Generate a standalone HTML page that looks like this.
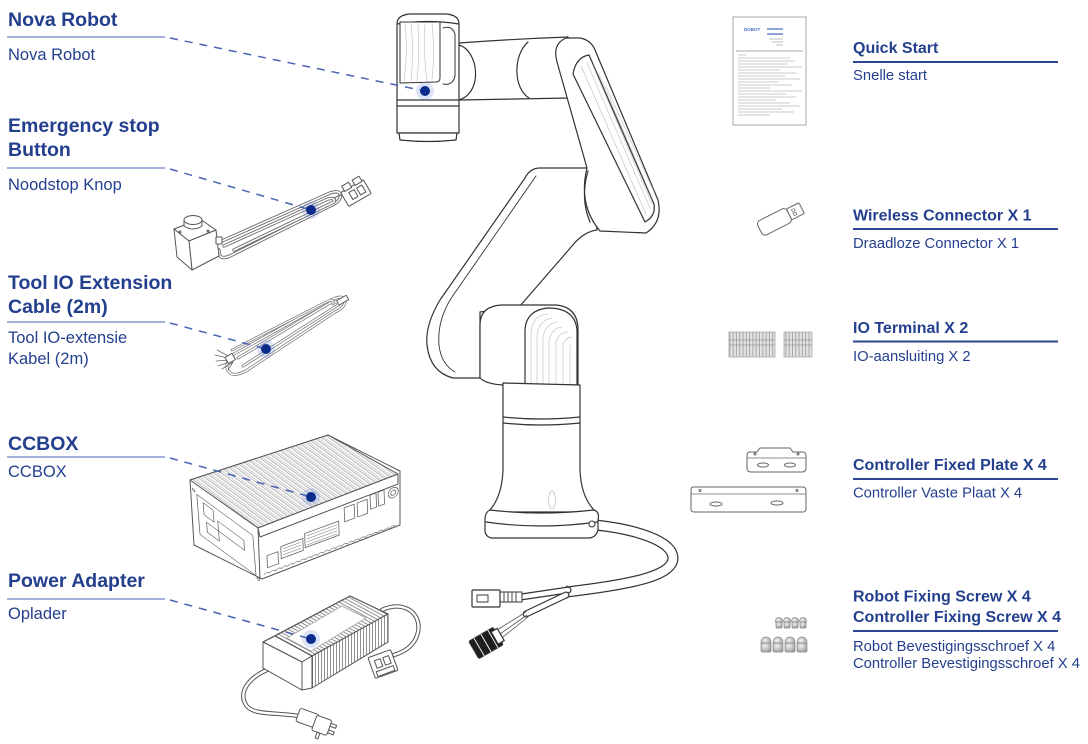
<!DOCTYPE html>
<html><head><meta charset="utf-8">
<style>
html,body{margin:0;padding:0;background:#fff;}
svg{display:block;}
.t{font-family:"Liberation Sans",Arial,sans-serif;fill:#233f8d;}
.lt{font-size:19.5px;font-weight:bold;}
.ls{font-size:16.5px;}
.rt{font-size:16px;font-weight:bold;}
.rs{font-size:14.8px;}
</style></head>
<body>
<svg width="1088" height="744" viewBox="0 0 1088 744" xmlns="http://www.w3.org/2000/svg">
<defs>
<pattern id="fin1" width="4.4" height="10" patternUnits="userSpaceOnUse" patternTransform="rotate(-53.7)">
<rect width="4.4" height="10" fill="#fff"/>
<line x1="0.6" y1="0" x2="0.6" y2="10" stroke="#9a9a9a" stroke-width="0.7"/>
<line x1="2.4" y1="0" x2="2.4" y2="10" stroke="#b0b0b0" stroke-width="0.6"/>
</pattern>
<pattern id="fin2" width="3" height="10" patternUnits="userSpaceOnUse" patternTransform="rotate(-61.6)">
<rect width="3" height="10" fill="#fff"/>
<line x1="0.6" y1="0" x2="0.6" y2="10" stroke="#777" stroke-width="0.8"/>
</pattern>
<pattern id="fin3" width="3" height="10" patternUnits="userSpaceOnUse">
<rect width="3" height="10" fill="#fff"/>
<line x1="0.6" y1="0" x2="0.6" y2="10" stroke="#777" stroke-width="0.8"/>
</pattern>
<pattern id="term" width="3.3" height="25" patternUnits="userSpaceOnUse">
<rect width="3.3" height="25" fill="#e2e2e2"/>
<line x1="0.5" y1="0" x2="0.5" y2="25" stroke="#9a9a9a" stroke-width="0.8"/>
</pattern>
<radialGradient id="scr" cx="0.4" cy="0.35" r="0.7">
<stop offset="0" stop-color="#f2f2f2"/><stop offset="1" stop-color="#9a9a9a"/>
</radialGradient>
</defs>

<!-- ================= LEFT LABELS ================= -->
<g>
<text class="t lt" x="8" y="26">Nova Robot</text>
<line x1="7" y1="37" x2="165" y2="37" stroke="#8597d2" stroke-width="1.6"/>
<text class="t ls" x="8" y="60">Nova Robot</text>

<text class="t lt" x="8" y="132">Emergency stop</text>
<text class="t lt" x="8" y="156">Button</text>
<line x1="7" y1="168" x2="165" y2="168" stroke="#8597d2" stroke-width="1.6"/>
<text class="t ls" x="8" y="190">Noodstop Knop</text>

<text class="t lt" x="8" y="289">Tool IO Extension</text>
<text class="t lt" x="8" y="313">Cable (2m)</text>
<line x1="7" y1="322" x2="165" y2="322" stroke="#8597d2" stroke-width="1.6"/>
<text class="t ls" x="8" y="343">Tool IO-extensie</text>
<text class="t ls" x="8" y="364">Kabel (2m)</text>

<text class="t lt" x="8" y="450">CCBOX</text>
<line x1="7" y1="457" x2="165" y2="457" stroke="#8597d2" stroke-width="1.6"/>
<text class="t ls" x="8" y="477">CCBOX</text>

<text class="t lt" x="8" y="587">Power Adapter</text>
<line x1="7" y1="599" x2="165" y2="599" stroke="#8597d2" stroke-width="1.6"/>
<text class="t ls" x="8" y="619">Oplader</text>
</g>

<!-- ================= RIGHT LABELS ================= -->
<g>
<text class="t rt" x="853" y="53">Quick Start</text>
<line x1="853" y1="62" x2="1058" y2="62" stroke="#2e4593" stroke-width="2"/>
<text class="t rs" x="853" y="80">Snelle start</text>

<text class="t rt" x="853" y="220.5">Wireless Connector X 1</text>
<line x1="853" y1="229" x2="1058" y2="229" stroke="#2e4593" stroke-width="2"/>
<text class="t rs" x="853" y="248">Draadloze Connector X 1</text>

<text class="t rt" x="853" y="333">IO Terminal X 2</text>
<line x1="853" y1="341.5" x2="1058" y2="341.5" stroke="#2e4593" stroke-width="2"/>
<text class="t rs" x="853" y="361">IO-aansluiting X 2</text>

<text class="t rt" x="853" y="470">Controller Fixed Plate X 4</text>
<line x1="853" y1="479" x2="1058" y2="479" stroke="#2e4593" stroke-width="2"/>
<text class="t rs" x="853" y="497.5">Controller Vaste Plaat X 4</text>

<text class="t rt" x="853" y="601.5">Robot Fixing Screw X 4</text>
<text class="t rt" x="853" y="622">Controller Fixing Screw X 4</text>
<line x1="853" y1="631" x2="1058" y2="631" stroke="#2e4593" stroke-width="2"/>
<text class="t rs" x="853" y="651">Robot Bevestigingsschroef X 4</text>
<text class="t rs" x="853" y="668">Controller Bevestigingsschroef X 4</text>
</g>

<!-- ================= ROBOT ================= -->
<g fill="#fff" stroke="#333" stroke-width="1.2" stroke-linejoin="round" stroke-linecap="round">
<!-- upper arm -->
<path d="M540,168 L590,168 L597,230 Q583,232 572,246 L520,306 L480,312 L480,378 L453,378 Q430,372 427,345 Q425,325 440,300 L525,178 Q530,168 540,168 Z"/>
<path d="M536,176 L452,297 Q437,320 439,345 Q441,364 455,372" fill="none" stroke-width="0.9"/>
<!-- shoulder -->
<path d="M480,378 L480,325 Q480,306 502,305 L556,305 Q578,307 578,330 L578,385 L503,385 Q486,384 480,378 Z"/>
<path d="M525,385 L525,330 Q526,310 548,308 Q575,308 577,330 L577,385" fill="none"/>
<path d="M531,384 L531,333 Q532,315 548,314 M537,384 L537,336 Q539,320 552,318 M543,384 L543,338 Q545,324 557,322 M549,384 L549,340 Q552,328 562,327 M556,384 L556,342 Q559,332 568,332 M563,384 L563,345 Q566,337 572,337 M570,384 L570,345" fill="none" stroke="#c6c6c6" stroke-width="0.7"/>
<!-- column -->
<path d="M503,383 L503,470 Q502,498 488,512 L596,512 Q581,498 580,470 L580,385 Z"/>
<path d="M503,417 Q541,421 580,417 M503,423 Q541,427 580,423" fill="none"/>
<ellipse cx="552" cy="500" rx="3.5" ry="9" fill="none" stroke="#c4c4c4" stroke-width="0.9"/>
<!-- cable -->
<path d="M585,524 C635,528 673,541 673,558 C673,577 625,585 567,592" fill="none" stroke="#333" stroke-width="11"/>
<path d="M585,524 C635,528 673,541 673,558 C673,577 625,585 567,592" fill="none" stroke="#fff" stroke-width="8.6"/>
<path d="M567,586 L567,598" fill="none"/>
<path d="M568,590 L521,597" fill="none" stroke="#333" stroke-width="7"/>
<path d="M568,590 L521,597" fill="none" stroke="#fff" stroke-width="4.6"/>
<path d="M566,595 L526,614" fill="none" stroke="#333" stroke-width="7"/>
<path d="M566,595 L526,614" fill="none" stroke="#fff" stroke-width="4.6"/>
<path d="M526,612 L497,630 M527,615 L500,634 M528,617 L503,637" fill="none" stroke="#555" stroke-width="0.8"/>
<rect x="500" y="592" width="22" height="10" stroke-width="1"/>
<path d="M504,593 L504,601 M508,593 L508,601 M512,593 L512,601 M516,593 L516,601" fill="none" stroke="#666" stroke-width="1.2"/>
<rect x="472" y="590" width="28" height="17" rx="1"/>
<rect x="477" y="595" width="11" height="7" stroke-width="0.9"/>
<g transform="translate(486,643) rotate(-30)">
<rect x="-14" y="-10" width="28" height="20" rx="1.5" fill="#1e1e1e"/>
<path d="M-8,-10 L-8,10 M0,-10 L0,10 M8,-10 L8,10" stroke="#fff" stroke-width="0.9"/>
<rect x="10" y="-7" width="7" height="14" fill="#fff"/>
</g>
<!-- base plate -->
<path d="M490,510 Q541,516 594,510 Q600,512 598,520 L598,530 Q596,537 590,538 L492,538 Q485,537 485,530 L485,520 Q485,512 490,510 Z"/>
<path d="M486,522 Q541,530 597,522" fill="none"/>
<circle cx="592" cy="524" r="3" stroke-width="1"/>
<!-- link from head to elbow -->
<path d="M459,43 C500,40 540,38 568,37 L570,98 L459,100 Z"/>
<path d="M528,42 C513,55 513,88 529,98" fill="none"/>
<!-- forearm -->
<path d="M557,62 Q552,44 566,38 L580,38 Q591,40 595,50 L658,200 Q663,222 646,233 L600,231 Q578,205 587,168 L557,62 Z"/>
<path d="M573,74 Q576,57 589,55 L654,204 Q656,216 645,222 Z"/>
<path d="M581,66 L646,214 M587,63 L650,208 M593,66 L652,204 M599,74 L653,200 M606,86 L654,192" fill="none" stroke="#c6c6c6" stroke-width="0.7"/>
<path d="M588,171 Q580,198 590,222" fill="none"/>
<!-- head -->
<path d="M459,45 C478,50 484,92 459,100" />
<path d="M397,24 Q397,15 410,14 L446,14 Q459,15 459,24 L459,133 L397,133 Z"/>
<path d="M397,24 Q428,19 459,24" fill="none"/>
<path d="M400,22 L440,22 L440,78 Q440,82 436,82 L400,83 Z" stroke-width="1"/>
<path d="M405,24 Q408,50 404,81 M411,24 Q414,50 411,81 M418,24 Q420,52 417,81 M425,24 Q423,50 427,81 M432,24 Q435,50 432,80" fill="none" stroke="#c6c6c6" stroke-width="0.7"/>
<path d="M443,28 Q452,25 455,34 L455,76 Q453,86 443,84" fill="none" stroke-width="1"/>
<line x1="397" y1="100" x2="459" y2="100"/>
<line x1="397" y1="106" x2="459" y2="106"/>
<path d="M399,133 L457,133 L456,140 Q428,143 400,140 Z"/>
</g>

<!-- ================= EMERGENCY STOP ================= -->
<g fill="none" stroke-linecap="round" stroke-linejoin="round">
<path d="M222,241 L330,193 Q342,189 340,198 Q338,203 330,206 L230,256 Q218,261 219,250" stroke="#666" stroke-width="3.4"/>
<path d="M222,241 L330,193 Q342,189 340,198 Q338,203 330,206 L230,256 Q218,261 219,250" stroke="#fff" stroke-width="1.6"/>
<path d="M224,246 L328,199 Q336,197 334,202 L234,250" stroke="#666" stroke-width="3.4"/>
<path d="M224,246 L328,199 Q336,197 334,202 L234,250" stroke="#fff" stroke-width="1.6"/>
<path d="M334,198 L345,193" stroke="#666" stroke-width="1"/>
<g transform="translate(356,193) rotate(-30)" fill="#fff" stroke="#555" stroke-width="1">
<rect x="-13" y="-8" width="26" height="16" rx="1"/>
<rect x="-9" y="-13" width="8" height="6"/>
<rect x="3" y="-13" width="8" height="6"/>
<rect x="-6" y="-4" width="6" height="8"/>
<rect x="3" y="-4" width="6" height="8"/>
</g>
<g fill="#fff" stroke="#555" stroke-width="1">
<path d="M174,229 L200,219 L216,230 L189,241 Z"/>
<path d="M189,241 L216,230 L219,256 L192,270 Z"/>
<path d="M174,229 L189,241 L192,270 L177,257 Z"/>
<path d="M184,226 L184,220 Q193,213 202,220 L202,226 Q193,232 184,226 Z"/>
<ellipse cx="193" cy="220" rx="9" ry="4.5"/>
<rect x="216" y="237" width="6" height="7"/>
<circle cx="180" cy="232" r="1"/><circle cx="208" cy="231" r="1"/>
</g>
</g>

<!-- ================= TOOL IO CABLE ================= -->
<g fill="none" stroke-linecap="round" stroke-linejoin="round">
<path d="M234,354 L333,299 Q345,294 345,302 Q344,308 335,312 L246,371 Q230,379 227,368 Q226,359 234,354" stroke="#777" stroke-width="3"/>
<path d="M234,354 L333,299 Q345,294 345,302 Q344,308 335,312 L246,371 Q230,379 227,368 Q226,359 234,354" stroke="#fff" stroke-width="1.5"/>
<path d="M238,358 L330,303 Q338,300 338,305 L243,366" stroke="#777" stroke-width="3"/>
<path d="M238,358 L330,303 Q338,300 338,305 L243,366" stroke="#fff" stroke-width="1.5"/>
<path d="M232,350 L326,302 Q334,298 333,304" stroke="#777" stroke-width="2.6"/>
<path d="M232,350 L326,302 Q334,298 333,304" stroke="#fff" stroke-width="1.2"/>
<path d="M232,358 L217,350 M232,359 L215,355 M232,360 L216,361 M232,361 L218,366 M233,362 L222,369 M233,362 L228,370" stroke="#666" stroke-width="0.8"/>
<rect x="226" y="355" width="8" height="7" transform="rotate(-30 230 358)" fill="#fff" stroke="#555" stroke-width="0.9"/>
<rect x="337" y="298" width="11" height="5" transform="rotate(-30 342 300)" fill="#fff" stroke="#555" stroke-width="0.9"/>
</g>

<!-- ================= CCBOX ================= -->
<g stroke="#555" stroke-width="1" stroke-linejoin="round">
<path d="M190,480 L328,435 L400,471 L400,525 L262,579 L194,545 Z" fill="#fff"/>
<path d="M190,480 L328,435 L398,474 L258,528 Z" fill="url(#fin1)"/>
<path d="M258,528 L398,474 L398,484 L260,537 Z" fill="#fff"/>
<g transform="matrix(1,-0.371,0.043,1,260,536)" fill="#fff" stroke="#666" stroke-width="0.8">
<rect x="6" y="22" width="11" height="12"/>
<rect x="20" y="18" width="22" height="12"/>
<rect x="44" y="14" width="34" height="14"/>
<path d="M22,21 L40,21 M22,24 L40,24 M22,27 L40,27 M46,17 L76,17 M46,20 L76,20 M46,23 L76,23 M46,26 L76,26" stroke="#888" stroke-width="0.6"/>
<rect x="84" y="3" width="10" height="14"/>
<rect x="97" y="3" width="10" height="14"/>
<rect x="110" y="0" width="6" height="14"/>
<rect x="118" y="0" width="6" height="14"/>
<circle cx="133" cy="6" r="5"/>
<circle cx="133" cy="6" r="2.5"/>
<path d="M2,40 Q5,37 8,40 Q11,37 14,40 Q17,37 20,40 Q23,37 26,40 Q29,37 32,40 Q35,37 38,40 Q41,37 44,40 Q47,37 50,40 Q53,37 56,40 Q59,37 62,40 Q65,37 68,40 Q71,37 74,40 Q77,37 80,40 Q83,37 86,40 Q89,37 92,40 Q95,37 98,40 Q101,37 104,40 Q107,37 110,40 Q113,37 116,40 Q119,37 122,40 Q125,37 128,40 Q131,37 134,40" fill="none" stroke="#888"/>
</g>
<path d="M258,528 L260,579" fill="none"/>
<g transform="matrix(1,0.735,0.08,1,190,480)" fill="#fff" stroke="#666" stroke-width="0.8">
<rect x="6" y="10" width="56" height="40"/>
<rect x="12" y="14" width="10" height="12"/>
<rect x="26" y="22" width="26" height="10"/>
<rect x="14" y="32" width="12" height="10"/>
<circle cx="3" cy="8" r="1.2"/><circle cx="64" cy="52" r="1.2"/>
</g>
</g>

<!-- ================= POWER ADAPTER ================= -->
<g stroke-linecap="round" stroke-linejoin="round">
<path d="M272,668 C252,675 237,690 246,705 C253,716 278,712 298,716" fill="none" stroke="#555" stroke-width="4.4"/>
<path d="M272,668 C252,675 237,690 246,705 C253,716 278,712 298,716" fill="none" stroke="#fff" stroke-width="2.4"/>
<path d="M382,610 C402,600 422,612 418,632 C415,646 404,652 394,655" fill="none" stroke="#555" stroke-width="4.4"/>
<path d="M382,610 C402,600 422,612 418,632 C415,646 404,652 394,655" fill="none" stroke="#fff" stroke-width="2.4"/>
<g stroke="#555" stroke-width="1" fill="#fff">
<path d="M263,642 L350,596 L388,614 L388,642 L302,690 L263,668 Z"/>
<path d="M275,636 L350,596 L388,614 L312,656 Z" fill="url(#fin2)"/>
<path d="M312,656 L388,614 L388,642 L312,688 Z" fill="url(#fin3)"/>
<path d="M263,642 L275,636 L312,656 L302,662 Z"/>
<path d="M263,642 L302,662 L302,690 L263,668 Z"/>
<path d="M302,662 L312,656 L312,688 L302,690 Z"/>
<path d="M287,638 L342,606 L366,618 L311,651 Z" fill="#fff" stroke="#999" stroke-width="0.7"/>
<g transform="translate(318,724) rotate(20)">
<rect x="-22" y="-9" width="20" height="14" rx="2"/>
<rect x="-4" y="-8" width="16" height="16" rx="2"/>
<rect x="12" y="-5" width="6" height="3"/><rect x="12" y="2" width="6" height="3"/>
<rect x="2" y="8" width="3" height="6"/>
</g>
<g transform="translate(383,664) rotate(-20)">
<rect x="-12" y="-11" width="24" height="22" rx="1.5"/>
<rect x="-7" y="-6" width="6" height="8"/><rect x="2" y="-6" width="6" height="8"/>
<rect x="-9" y="5" width="18" height="5"/>
</g>
</g>
</g>

<!-- ================= QUICK START DOC ================= -->
<g>
<rect x="733" y="17" width="73" height="108" fill="#fff" stroke="#a8a8a8" stroke-width="1"/>
<text x="744" y="31" font-family="Liberation Sans,sans-serif" font-size="4.5" font-weight="bold" fill="#4a6bc7">DOBOT</text>
<path d="M767,29 L783,29 M767,34 L783,34" stroke="#6a86d0" stroke-width="1.6"/>
<path d="M769,39 L783,39 M772,42 L783,42 M776,45 L783,45" stroke="#aaa" stroke-width="0.8"/>
<path d="M736,51 L803,51" stroke="#888" stroke-width="0.8"/>
<path d="M738,55 L746,55 M738,58 L790,58 M738,61 L795,61 M738,64 L788,64 M738,67 L802,67 M738,70 L780,70 M738,73 L796,73 M738,76 L785,76 M738,79 L800,79 M738,82 L778,82 M738,85 L792,85 M738,88 L770,88 M738,91 L802,91 M738,94 L786,94 M738,97 L796,97 M738,100 L776,100 M738,103 L790,103 M738,106 L800,106 M738,109 L782,109 M738,112 L794,112 M738,115 L770,115" stroke="#bbb" stroke-width="0.8"/>
</g>

<!-- ================= WIRELESS DONGLE ================= -->
<g transform="translate(782,218) rotate(-27)" fill="#fff" stroke="#666" stroke-width="1">
<rect x="-25" y="-8" width="33" height="16" rx="4"/>
<rect x="8" y="-6" width="14" height="12" rx="1"/>
<rect x="12" y="-3" width="3" height="2.5" stroke-width="0.6"/>
<rect x="12" y="1" width="3" height="2.5" stroke-width="0.6"/>
</g>

<!-- ================= IO TERMINALS ================= -->
<g stroke="#aaa" stroke-width="0.8">
<rect x="729" y="332" width="46" height="25" fill="url(#term)"/>
<rect x="784" y="332" width="28" height="25" fill="url(#term)"/>
<path d="M729,345 L775,345 M784,345 L812,345 M729,340 L775,340 M784,340 L812,340" stroke="#999"/>
</g>

<!-- ================= PLATES ================= -->
<g fill="#fff" stroke="#666" stroke-width="1">
<path d="M750,452 L757,452 L760,448 L790,448 L793,452 L803,452 Q806,452 806,456 L806,468 Q806,472 802,472 L751,472 Q747,472 747,468 L747,456 Q747,452 750,452 Z"/>
<path d="M747,458 L806,458" fill="none" stroke-width="0.8"/>
<ellipse cx="763" cy="465" rx="5.5" ry="2"/>
<ellipse cx="790" cy="465" rx="5.5" ry="2"/>
<circle cx="755" cy="454" r="1"/><circle cx="798" cy="454" r="1"/>
<path d="M693,487 L803,487 Q806,487 806,491 L806,509 Q806,512 803,512 L694,512 Q691,512 691,509 L691,491 Q691,487 693,487 Z"/>
<path d="M691,494 L806,494" fill="none" stroke-width="0.8"/>
<ellipse cx="716" cy="504" rx="6" ry="2"/>
<ellipse cx="777" cy="503" rx="6" ry="2"/>
<circle cx="700" cy="490.5" r="1"/><circle cx="797" cy="490.5" r="1"/>
</g>

<!-- ================= SCREWS ================= -->
<g fill="url(#scr)" stroke="#888" stroke-width="0.7">
<g><circle cx="779" cy="621" r="3.5"/><rect x="776" y="622" width="6" height="6" rx="1"/></g>
<g><circle cx="787" cy="621" r="3.5"/><rect x="784" y="622" width="6" height="6" rx="1"/></g>
<g><circle cx="795" cy="621" r="3.5"/><rect x="792" y="622" width="6" height="6" rx="1"/></g>
<g><circle cx="803" cy="621" r="3.5"/><rect x="800" y="622" width="6" height="6" rx="1"/></g>
<g><circle cx="766" cy="642" r="5"/><rect x="761" y="643" width="10" height="9" rx="1.5"/></g>
<g><circle cx="778" cy="642" r="5"/><rect x="773" y="643" width="10" height="9" rx="1.5"/></g>
<g><circle cx="790" cy="642" r="5"/><rect x="785" y="643" width="10" height="9" rx="1.5"/></g>
<g><circle cx="802" cy="642" r="5"/><rect x="797" y="643" width="10" height="9" rx="1.5"/></g>
</g>

<!-- ================= LEADERS & DOTS ================= -->
<g fill="none" stroke="#4a65b5" stroke-width="1.5" stroke-dasharray="8,7">
<path d="M170,38 L425,91"/>
<path d="M170,169 L311,210"/>
<path d="M170,323 L266,349"/>
<path d="M170,458 L311,497"/>
<path d="M170,600 L311,639"/>
</g>
<g>
<circle cx="425" cy="91" r="9" fill="#5a78d8" fill-opacity="0.2"/>
<circle cx="425" cy="91" r="5" fill="#0b2c8a"/>
<circle cx="311" cy="210" r="9" fill="#5a78d8" fill-opacity="0.2"/>
<circle cx="311" cy="210" r="5" fill="#0b2c8a"/>
<circle cx="266" cy="349" r="9" fill="#5a78d8" fill-opacity="0.2"/>
<circle cx="266" cy="349" r="5" fill="#0b2c8a"/>
<circle cx="311" cy="497" r="9" fill="#5a78d8" fill-opacity="0.2"/>
<circle cx="311" cy="497" r="5" fill="#0b2c8a"/>
<circle cx="311" cy="639" r="9" fill="#5a78d8" fill-opacity="0.2"/>
<circle cx="311" cy="639" r="5" fill="#0b2c8a"/>
</g>
</svg>
</body></html>
